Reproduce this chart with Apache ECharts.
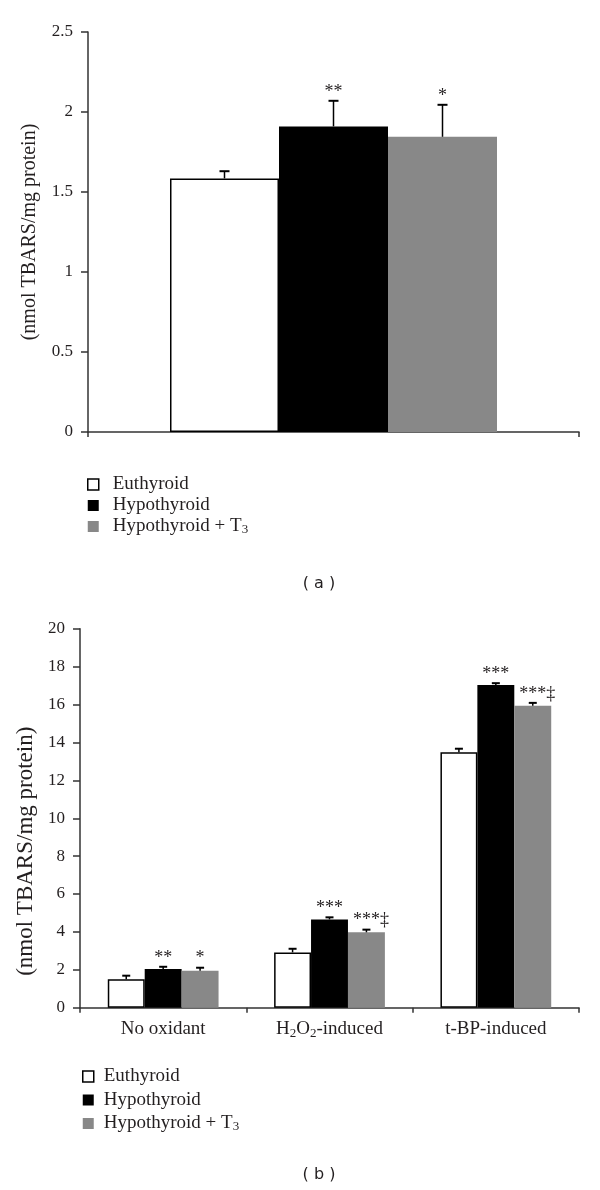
<!DOCTYPE html>
<html><head><meta charset="utf-8">
<script src="https://cdn.jsdelivr.net/npm/echarts@6/dist/echarts.min.js"></script>
<style>html,body{margin:0;padding:0;background:#fff}#c{width:600px;height:1190px}</style>
</head><body><div id="c"></div>
<script>
// ---------- data ----------
const seriesNames = ['Euthyroid', 'Hypothyroid', 'Hypothyroid + T3'];
const seriesColors = ['#ffffff', '#000000', '#888888'];

// Panel (a)
const categoriesA = [''];
const euthyroidA = [1.585];
const hypothyroidA = [1.91];
const hypoT3A = [1.845];
const euthyroidAErr = [0.045];
const hypothyroidAErr = [0.16];
const hypoT3AErr = [0.2];
const euthyroidASig = [''];
const hypothyroidASig = ['**'];
const hypoT3ASig = ['*'];
const yTicksA = { min: 0, max: 2.5, interval: 0.5 };

// Panel (b)
const categoriesB = ['No oxidant', 'H2O2-induced', 't-BP-induced'];
const euthyroidB = [1.50, 2.92, 13.48];
const hypothyroidB = [2.04, 4.66, 17.03];
const hypoT3B = [1.95, 3.98, 15.94];
const euthyroidBErr = [0.19, 0.19, 0.19];
const hypothyroidBErr = [0.12, 0.11, 0.10];
const hypoT3BErr = [0.16, 0.14, 0.15];
const euthyroidBSig = ['', '', ''];
const hypothyroidBSig = ['**', '***', '***'];
const hypoT3BSig = ['*', '***\u2021', '***\u2021'];
const yTicksB = { min: 0, max: 20, interval: 2 };

const yAxisName = '(nmol TBARS/mg protein)';

// ---------- styling ----------
const SERIF = '"Liberation Serif", "DejaVu Serif", serif';
const INK = '#231f20';
const BAR_FRAC = 0.222;

function subFmt(v) {
  return '{n|' + String(v).replace(/([A-Za-z])(\d)/g, '$1}{s|$2}{n|') + '}';
}

function buildErr(values, errs, sigs) {
  const data = [], labels = [];
  values[0].forEach((_, i) => {
    for (let s = 0; s < values.length; s++) {
      data.push([i, s, values[s][i], errs[s][i]]);
      labels.push(sigs[s][i]);
    }
  });
  return { data, labels };
}

function errSeries(idx, values, errs, sigs, capHalf, gap, fs) {
  const built = buildErr(values, errs, sigs);
  return {
    type: 'custom', xAxisIndex: idx, yAxisIndex: idx, z: 10, clip: false,
    data: built.data,
    renderItem: function (params, api) {
      const cat = api.value(0), s = api.value(1), v = api.value(2), e = api.value(3);
      const band = api.size([1, 0])[0];
      const bw = band * BAR_FRAC;
      const p = api.coord([cat, v]);
      const x = p[0] + (s - 1) * bw;
      const yTop = api.coord([cat, v + e])[1];
      const lbl = built.labels[params.dataIndex];
      const children = [
        { type: 'line', shape: { x1: x, y1: p[1], x2: x, y2: yTop }, style: { stroke: '#000', lineWidth: 1.5 } },
        { type: 'line', shape: { x1: x - capHalf, y1: yTop, x2: x + capHalf, y2: yTop }, style: { stroke: '#000', lineWidth: 2 } }
      ];
      if (lbl) {
        const dx = lbl.indexOf('\u2021') >= 0 ? fs * 0.25 : 0;
        children.push({
          type: 'text',
          style: { text: lbl, x: x + dx, y: yTop - gap, align: 'center', verticalAlign: 'middle',
                   font: fs + 'px ' + SERIF, fill: INK }
        });
      }
      return { type: 'group', children };
    }
  };
}

function barSeries(idx, name, data, color) {
  return {
    type: 'bar', name, data, xAxisIndex: idx, yAxisIndex: idx,
    barWidth: (BAR_FRAC * 100) + '%', barGap: '0%',
    itemStyle: { color, borderColor: color === '#ffffff' ? '#000' : color, borderWidth: color === '#ffffff' ? 1.5 : 0 },
    emphasis: { disabled: true }
  };
}

const valuesA = [euthyroidA, hypothyroidA, hypoT3A];
const valuesB = [euthyroidB, hypothyroidB, hypoT3B];

function richText(fs, lh) {
  return {
    n: { fontFamily: SERIF, fontSize: fs, color: INK, lineHeight: lh },
    s: { fontFamily: SERIF, fontSize: Math.round(fs * 0.68), color: INK, lineHeight: 14, verticalAlign: 'bottom' }
  };
}

function legendCfg(left, top, itemGap, gapW, fs) {
  const rich = richText(fs, 20);
  rich.g = { width: gapW };
  return {
    orient: 'vertical', left, top, padding: 0, itemGap, itemWidth: 11, itemHeight: 11,
    selectedMode: false,
    data: seriesNames.map((n, i) => ({
      name: n, icon: 'rect',
      itemStyle: { color: seriesColors[i], borderColor: '#000', borderWidth: i === 0 ? 1.5 : 0 }
    })),
    formatter: n => '{g|}' + subFmt(n),
    textStyle: { rich }
  };
}

const axisLineStyle = { color: '#333', width: 1.5 };

const option = {
  animation: false,
  backgroundColor: '#fff',
  title: [
    { text: '( a )', left: 314, top: 571, textAlign: 'center',
      textStyle: { fontFamily: '"DejaVu Sans", sans-serif', fontSize: 16, fontWeight: 'normal', color: INK } },
    { text: '( b )', left: 314, top: 1162, textAlign: 'center',
      textStyle: { fontFamily: '"DejaVu Sans", sans-serif', fontSize: 16, fontWeight: 'normal', color: INK } }
  ],
  legend: [legendCfg(87, 475, 2, 9, 19), legendCfg(82, 1067, 4.5, 5, 19)],
  grid: [
    { left: 88, right: 21, top: 32, height: 400 },
    { left: 80, right: 21, top: 628.8, height: 378.9 }
  ],
  xAxis: [
    { type: 'category', gridIndex: 0, data: categoriesA,
      axisLine: { lineStyle: axisLineStyle },
      axisTick: { show: true, length: 5, interval: 0, lineStyle: axisLineStyle },
      axisLabel: { show: false } },
    { type: 'category', gridIndex: 1, data: categoriesB,
      axisLine: { lineStyle: axisLineStyle },
      axisTick: { show: true, length: 5, interval: 0, lineStyle: axisLineStyle },
      axisLabel: { margin: 10, interval: 0, hideOverlap: false, formatter: subFmt,
        rich: richText(19, 22) } }
  ],
  yAxis: [
    { type: 'value', gridIndex: 0, min: yTicksA.min, max: yTicksA.max, interval: yTicksA.interval,
      name: yAxisName, nameLocation: 'middle', nameGap: 48, nameRotate: 90,
      nameTextStyle: { fontFamily: SERIF, fontSize: 20, color: INK },
      axisLine: { show: true, lineStyle: axisLineStyle },
      axisTick: { show: true, length: 7, lineStyle: axisLineStyle },
      splitLine: { show: false },
      axisLabel: { margin: 15, fontFamily: SERIF, fontSize: 17, color: INK } },
    { type: 'value', gridIndex: 1, min: yTicksB.min, max: yTicksB.max, interval: yTicksB.interval,
      name: yAxisName, nameLocation: 'middle', nameGap: 40, nameRotate: 90,
      nameTextStyle: { fontFamily: SERIF, fontSize: 23, color: INK, padding: [0, 66, 0, 0] },
      axisLine: { show: true, lineStyle: axisLineStyle },
      axisTick: { show: true, length: 7, lineStyle: axisLineStyle },
      splitLine: { show: false },
      axisLabel: { margin: 15, fontFamily: SERIF, fontSize: 17, color: INK } }
  ],
  series: [
    ...valuesA.map((vals, s) => barSeries(0, seriesNames[s], vals, seriesColors[s])),
    ...valuesB.map((vals, s) => barSeries(1, seriesNames[s], vals, seriesColors[s])),
    errSeries(0, valuesA, [euthyroidAErr, hypothyroidAErr, hypoT3AErr],
              [euthyroidASig, hypothyroidASig, hypoT3ASig], 5, 9, 18),
    errSeries(1, valuesB, [euthyroidBErr, hypothyroidBErr, hypoT3BErr],
              [euthyroidBSig, hypothyroidBSig, hypoT3BSig], 4, 9, 18)
  ]
};

const chart = echarts.init(document.getElementById('c'), null, { renderer: 'canvas' });
chart.setOption(option);
</script>
</body></html>
